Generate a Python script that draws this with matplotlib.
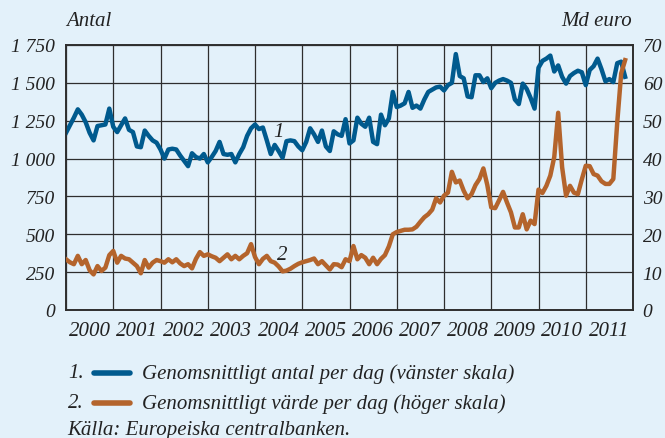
import matplotlib
matplotlib.use("Agg")
import matplotlib.pyplot as plt
import numpy as np
import pandas as pd

# Monthly data, Jan 2000 onwards
antal = [1170, 1220, 1270, 1325, 1290, 1240, 1170, 1120, 1215, 1220, 1225, 1330,
         1210, 1175, 1220, 1265, 1190, 1175, 1080, 1075, 1185, 1150, 1120, 1105,
         1060, 1000, 1060, 1065, 1060, 1020, 985, 950, 1035, 1010, 1000, 1030,
         975, 1010, 1050, 1110, 1030, 1025, 1030, 975, 1030, 1075, 1150, 1200,
         1225, 1195, 1205, 1120, 1030, 1090, 1050, 1005, 1115, 1120, 1115, 1080,
         1055, 1110, 1200, 1160, 1110, 1185, 1080, 1050, 1180, 1160, 1150, 1260,
         1100, 1120, 1270, 1230, 1210, 1270, 1110, 1095, 1290, 1220, 1265, 1440,
         1340, 1350, 1365, 1440, 1335, 1350, 1330, 1390, 1440, 1455, 1470, 1475,
         1450, 1485, 1500, 1690, 1545, 1530, 1410, 1405, 1550, 1550, 1505, 1530,
         1465, 1500, 1515, 1525, 1515, 1500, 1390, 1360, 1495, 1460, 1400, 1330,
         1600, 1645, 1660, 1680, 1575, 1615, 1540, 1495, 1545, 1565, 1580, 1570,
         1485, 1585, 1610, 1660, 1590, 1510, 1525, 1505, 1630, 1640, 1540]

varde = [13.4, 12.6, 12.1, 14.3, 12.1, 13.2, 10.5, 9.4, 11.6, 10.3, 11.2, 14.5,
         15.6, 12.5, 14.3, 13.6, 13.4, 12.5, 11.6, 9.7, 13.2, 11.2, 12.5, 13.2,
         12.9, 12.5, 13.4, 12.6, 13.4, 12.3, 11.6, 12.1, 11.0, 13.5, 15.3, 14.3,
         14.7, 14.2, 13.8, 12.9, 13.8, 14.7, 13.4, 14.3, 13.4, 14.3, 15.0, 17.4,
         14.0, 12.1, 13.5, 14.3, 12.9, 12.5, 11.5, 10.2, 10.4, 10.9, 11.6, 12.2,
         12.6, 12.9, 13.2, 13.6, 12.1, 12.9, 11.8, 10.7, 12.1, 12.0, 11.3, 13.4,
         12.9, 16.9, 13.4, 14.5, 13.8, 12.1, 13.8, 12.1, 13.5, 14.5, 16.8, 20.0,
         20.6, 20.9, 21.2, 21.2, 21.3, 22.0, 23.3, 24.5, 25.3, 26.5, 29.5, 28.4,
         30.2, 31.0, 36.5, 33.7, 34.2, 31.5, 29.5, 30.6, 33.0, 34.6, 37.4, 33.0,
         27.1, 26.9, 29.0, 31.2, 28.4, 25.8, 21.8, 21.8, 25.3, 21.3, 23.6, 22.7,
         31.8, 30.9, 32.8, 35.5, 40.4, 52.1, 37.7, 30.2, 32.8, 31.0, 30.6, 34.5,
         38.1, 38.0, 35.9, 35.5, 34.0, 33.3, 33.3, 34.6, 49.6, 62.5, 66.0]

years = list(range(2000, 2012))
left_ticks = [0, 250, 500, 750, 1000, 1250, 1500, 1750]
left_labels = ["0", "250", "500", "750", "1 000", "1 250", "1 500", "1 750"]
right_ticks = [0, 10, 20, 30, 40, 50, 60, 70]

legend_labels = ["Genomsnittligt antal per dag (vänster skala)",
                 "Genomsnittligt värde per dag (höger skala)"]
source_text = "Källa: Europeiska centralbanken."

BG = "#E3F1FA"
BLUE = "#005A8E"
ORANGE = "#B4642C"
GRID = "#2E2E2E"
FONT = "Liberation Serif"
FS = 14
FS_L = 15
TXT = "#222222"

t = 2000 + np.arange(len(antal)) / 12.0

fig = plt.figure(figsize=(6.65, 4.39), dpi=100, facecolor=BG)
ax = fig.add_axes([66 / 665, 1 - 311 / 439, (633 - 66) / 665, (311 - 46) / 439])
ax.set_facecolor(BG)
ax2 = ax.twinx()

ax.set_xlim(2000, 2012)
ax.set_ylim(0, 1750)
ax2.set_ylim(0, 70)

ax.set_xticks(range(2000, 2013))
ax.set_xticklabels([])
ax.set_xticks([y + 0.5 for y in years], minor=True)
ax.set_xticklabels([str(y) for y in years], minor=True,
                   fontfamily=FONT, fontstyle="italic", fontsize=FS_L, color=TXT)
ax.tick_params(axis="x", which="both", length=0, pad=8)

ax.set_yticks(left_ticks)
ax.set_yticklabels(left_labels, fontfamily=FONT, fontstyle="italic",
                   fontsize=FS, color=TXT)
ax.tick_params(axis="y", length=0, pad=8)

ax2.set_yticks(right_ticks)
ax2.set_yticklabels([str(v) for v in right_ticks], fontfamily=FONT,
                    fontstyle="italic", fontsize=FS, color=TXT)
ax2.tick_params(axis="y", length=0, pad=7)

ax.grid(True, which="major", color=GRID, lw=0.9)
ax.set_axisbelow(True)
for a in (ax, ax2):
    for s in a.spines.values():
        s.set_color(GRID)
        s.set_linewidth(1.2)

ax.plot(t, antal, color=BLUE, lw=3.2, solid_joinstyle="round", zorder=3)
ax2.plot(t, varde, color=ORANGE, lw=3.2, solid_joinstyle="round", zorder=3)

tfont = dict(fontfamily=FONT, fontstyle="italic", fontsize=FS_L, color=TXT)
ax2.text(2004.49, 1177 / 25, "1", ha="center", va="center", zorder=5, **tfont)
ax2.text(2004.57, 368 / 25, "2", ha="center", va="center", zorder=5, **tfont)

fig.text(66 / 665, 1 - 22 / 439, "Antal", ha="left", va="center", **tfont)
fig.text(632 / 665, 1 - 22 / 439, "Md euro", ha="right", va="center", **tfont)

# legend
for k, (lab, col) in enumerate(zip(legend_labels, [BLUE, ORANGE])):
    yy = 1 - (374 + 30 * k) / 439
    fig.text(68 / 665, yy, f"{k + 1}.", ha="left", va="center", **tfont)
    fig.add_artist(plt.Line2D([94 / 665, 130 / 665], [yy, yy], color=col, lw=4,
                              solid_capstyle="round", transform=fig.transFigure))
    fig.text(142 / 665, yy, lab, ha="left", va="center", **tfont)
fig.text(67 / 665, 1 - 431 / 439, source_text, ha="left", va="center", **tfont)

fig.savefig("out.png", dpi=100, facecolor=BG)
